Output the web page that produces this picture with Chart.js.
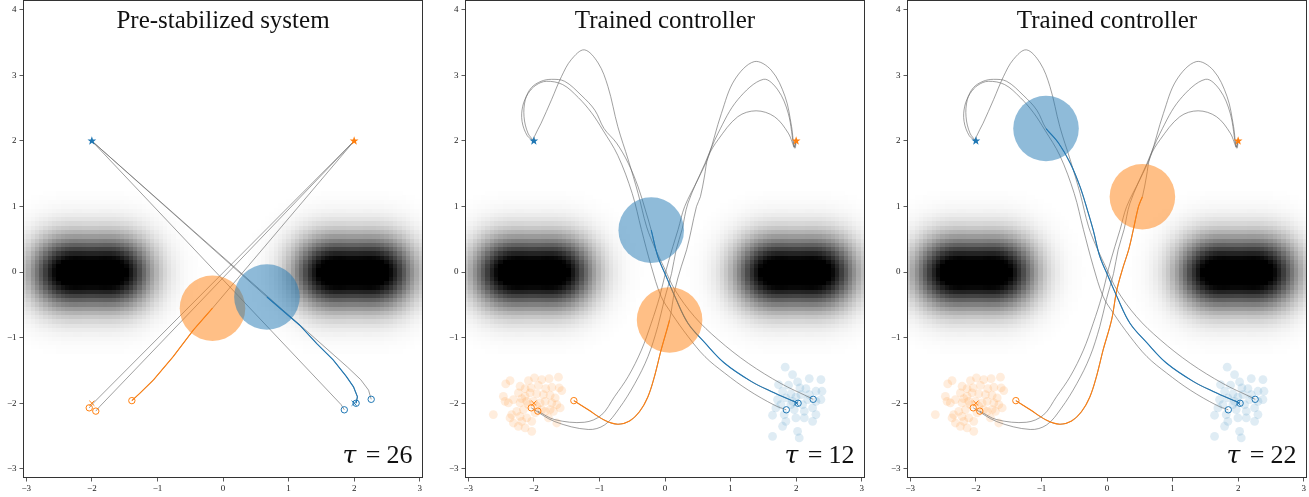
<!DOCTYPE html>
<html>
<head>
<meta charset="utf-8">
<script src="https://cdn.jsdelivr.net/npm/chart.js@4.4.1/dist/chart.umd.min.js"></script>
<style>
html, body { margin: 0; padding: 0; background: #fff; overflow: hidden; }
#wrap { position: relative; width: 1309px; height: 497px; overflow: hidden; }
canvas { position: absolute; top: 0; }
</style>
</head>
<body>
<div id="wrap">
<canvas id="c1" width="429" height="497" style="left:0px"></canvas>
<canvas id="c2" width="429" height="497" style="left:442px"></canvas>
<canvas id="c3" width="429" height="497" style="left:884px"></canvas>
</div>
<script>
/* colours and axes */
const blue = '#1f77b4'
const orange = '#ff7f0e'
const xTicks = [-3, -2, -1, 0, 1, 2, 3]
const yTicks = [-3, -2, -1, 0, 1, 2, 3, 4]
const xRange = [-3.05, 3.05]
const yRange = [-3.14, 4.15]

/* obstacle map (gaussian bumps) */
const obstacleX = [-2.4, -1.6, 1.6, 2.4]
const obstacleY = [0, 0, 0, 0]
const obstacleSpread = 0.374
const obstacleBlack = 0.97
const obstacleCell = 0.065

/* agents */
const goalBlue = [[-2, 2]]
const goalOrange = [[2, 2]]
const nominalBlue = [[2, -2]]
const nominalOrange = [[-2, -2]]
const startsBlue = [[2.03, -2.0], [1.85, -2.10], [2.26, -1.94]]
const startsOrange = [[-1.39, -1.96], [-2.04, -2.07], [-1.94, -2.12]]
const bodyRadius = 0.5

/* sampled initial conditions (faint clouds) */
const cloudOrange = [[-2.363, -1.654], [-2.429, -1.705], [-2.21, -1.741], [-2.083, -1.654], [-1.991, -1.614], [-1.879, -1.639], [-1.767, -1.624], [-1.625, -1.603], [-1.614, -1.766], [-1.574, -1.807], [-1.726, -1.756], [-1.818, -1.777], [-1.93, -1.726], [-2.042, -1.766], [-2.134, -1.777], [-2.236, -1.843], [-2.312, -1.944], [-2.439, -1.97], [-2.465, -1.894], [-2.389, -1.995], [-2.185, -1.929], [-2.134, -1.894], [-2.057, -1.843], [-1.956, -1.858], [-1.854, -1.868], [-1.752, -1.878], [-1.675, -1.919], [-1.828, -1.97], [-1.905, -1.995], [-1.726, -1.995], [-1.65, -2.021], [-1.752, -2.097], [-1.879, -2.097], [-1.828, -2.123], [-1.701, -2.123], [-1.599, -2.072], [-2.159, -2.097], [-2.261, -2.123], [-2.338, -2.173], [-2.21, -2.199], [-2.108, -2.224], [-2.032, -2.275], [-1.981, -2.148], [-2.185, -2.275], [-2.312, -2.301], [-2.236, -2.352], [-2.134, -2.377], [-2.032, -2.428], [-2.363, -2.224], [-2.618, -2.173], [-1.65, -2.301], [-1.777, -2.224], [-2.083, -2.021], [-2.006, -1.97], [-1.956, -2.046], [-2.108, -1.97], [-2.21, -1.995]]
const cloudBlue = [[1.833, -1.45], [1.945, -1.562], [2.2, -1.624], [2.378, -1.639], [1.731, -1.715], [1.884, -1.725], [2.022, -1.674], [2.057, -1.766], [2.302, -1.817], [2.394, -1.817], [2.149, -1.776], [1.793, -1.817], [1.92, -1.858], [1.996, -1.908], [1.716, -1.944], [2.175, -1.944], [2.302, -1.97], [1.767, -2.02], [1.92, -2.02], [2.098, -2.02], [2.251, -2.071], [1.691, -2.071], [1.971, -2.097], [2.124, -2.122], [2.302, -2.173], [1.64, -2.183], [1.818, -2.173], [1.996, -2.224], [2.124, -2.224], [2.251, -2.275], [1.843, -2.275], [1.793, -2.351], [2.022, -2.428], [1.64, -2.504], [2.047, -2.529], [1.945, -1.97], [2.073, -1.868], [1.843, -1.919], [2.2, -1.868], [2.378, -1.944]]

/* pre-stabilized trajectories */
const preBlue0 = [[2.03, -2.0], [2.05, -1.9], [1.99, -1.75], [1.88, -1.59], [1.68, -1.34], [1.43, -1.09], [1.17, -0.81], [0.67, -0.38], [-2, 2]]
const preBlue1 = [[1.85, -2.10], [1.80, -2.02], [-2, 2]]
const preBlue2 = [[2.26, -1.94], [2.22, -1.80], [2.10, -1.64], [1.90, -1.45], [-2, 2]]
const preOrange0 = [[-1.39, -1.96], [-1.27, -1.85], [-1.06, -1.645], [-0.76, -1.29], [-0.45, -0.88], [-0.16, -0.55], [2, 2]]
const preOrange1 = [[-2.04, -2.07], [-1.98, -2.0], [2, 2]]
const preOrange2 = [[-1.94, -2.12], [-1.88, -2.05], [2, 2]]

/* trained-controller trajectories */
const trainedBlue0 = [[2.03, -2.0], [1.62, -1.82], [1.32, -1.67], [0.91, -1.39], [0.61, -1.08], [0.35, -0.78], [0.15, -0.37], [0.02, -0.07], [-0.11, 0.24], [-0.21, 0.64], [-0.30, 0.95], [-0.41, 1.30], [-0.56, 1.66], [-0.74, 1.97], [-0.93, 2.19], [-1.07, 2.47], [-1.28, 2.70], [-1.53, 2.91], [-1.73, 2.94], [-1.89, 2.91], [-2.04, 2.81], [-2.13, 2.63], [-2.15, 2.37], [-2.09, 2.12], [-2, 2]]
const trainedBlue1 = [[1.85, -2.10], [1.67, -2.03], [1.27, -1.80], [0.91, -1.54], [0.61, -1.29], [0.35, -0.98], [0.10, -0.63], [-0.06, -0.37], [-0.21, 0.09], [-0.36, 0.65], [-0.50, 1.20], [-0.72, 1.78], [-0.95, 2.17], [-1.12, 2.43], [-1.32, 2.66], [-1.56, 2.86], [-1.81, 2.91], [-1.97, 2.85], [-2.09, 2.72], [-2.17, 2.53], [-2.18, 2.30], [-2.10, 2.08], [-2, 2]]
const trainedBlue2 = [[2.26, -1.94], [2.18, -1.90], [1.77, -1.70], [1.27, -1.39], [0.81, -1.03], [0.45, -0.68], [0.15, -0.27], [0.0, 0.04], [-0.15, 0.36], [-0.28, 0.69], [-0.41, 1.20], [-0.56, 1.71], [-0.72, 2.22], [-0.87, 2.83], [-1.02, 3.19], [-1.23, 3.39], [-1.43, 3.24], [-1.58, 2.98], [-1.73, 2.63], [-1.89, 2.27], [-1.99, 2.07], [-2, 2]]
const trainedOrange0 = [[-1.39, -1.96], [-1.17, -2.10], [-0.92, -2.26], [-0.72, -2.32], [-0.54, -2.27], [-0.39, -2.13], [-0.26, -1.90], [-0.16, -1.59], [-0.06, -1.19], [0.07, -0.73], [0.15, -0.27], [0.25, 0.09], [0.33, 0.34], [0.40, 0.64], [0.48, 1.0], [0.54, 1.15], [0.60, 1.45], [0.66, 1.76], [0.81, 2.02], [1.11, 2.37], [1.39, 2.46], [1.67, 2.37], [1.88, 2.12], [1.98, 1.89], [2, 2]]
const trainedOrange1 = [[-1.94, -2.12], [-1.68, -2.25], [-1.23, -2.29], [-0.97, -2.18], [-0.77, -1.90], [-0.56, -1.59], [-0.36, -1.19], [-0.21, -0.78], [-0.08, -0.37], [0.02, 0.04], [0.12, 0.39], [0.20, 0.65], [0.30, 1.0], [0.50, 1.41], [0.66, 1.76], [0.86, 2.42], [1.06, 2.93], [1.36, 3.21], [1.62, 3.08], [1.83, 2.68], [1.93, 2.22], [1.97, 1.91], [2, 2]]
const trainedOrange2 = [[-2.04, -2.07], [-1.68, -2.28], [-1.17, -2.40], [-0.92, -2.33], [-0.70, -2.08], [-0.46, -1.70], [-0.26, -1.29], [-0.11, -0.83], [-0.01, -0.42], [0.10, -0.02], [0.17, 0.34], [0.26, 0.65], [0.35, 1.05], [0.61, 1.66], [0.81, 2.12], [1.11, 2.63], [1.50, 2.94], [1.72, 2.78], [1.88, 2.42], [1.97, 1.91], [2, 2]]

/* panels: title, tau and index of the tau step in the coloured trajectory */
const panelTitles = ['Pre-stabilized system', 'Trained controller', 'Trained controller']
const panelTaus = [26, 12, 22]
const panelBlueStep = [7, 9, 14]
const panelOrangeStep = [5, 9, 15]

const pts = (arr) => arr.map((p) => ({ x: p[0], y: p[1] }))

const lineSet = (arr, color, width, order, tension) => ({
	data: pts(arr), showLine: true, borderColor: color, borderWidth: width,
	pointRadius: 0, tension: tension, order: order
})

const bodySet = (p, color) => ({
	data: pts([p]), pointStyle: 'circle', backgroundColor: color, borderWidth: 0, order: 1,
	pointRadius: (ctx) => {
		const s = ctx.chart.scales.x
		return Math.abs(s.getPixelForValue(bodyRadius) - s.getPixelForValue(0))
	}
})

const markSet = (arr, style, color, radius, order) => ({
	data: pts(arr), pointStyle: style, pointRadius: radius, borderColor: color,
	backgroundColor: 'rgba(0,0,0,0)', pointBorderWidth: 1, borderWidth: 1, order: order
})

/* obstacle field, drawn cell by cell through the scales */
const fieldPlugin = {
	id: 'field',
	beforeDatasetsDraw(chart) {
		const { ctx, chartArea: a, scales: { x, y } } = chart
		ctx.save()
		ctx.beginPath()
		ctx.rect(a.left, a.top, a.right - a.left, a.bottom - a.top)
		ctx.clip()
		const s2 = 2 * obstacleSpread * obstacleSpread
		for (let gx = -3.25; gx < 3.3; gx += obstacleCell) {
			for (let gy = -3.25; gy < 4.3; gy += obstacleCell) {
				const cx = gx + obstacleCell / 2
				const cy = gy + obstacleCell / 2
				let f = 0
				for (let k = 0; k < obstacleX.length; k++) {
					const dx = cx - obstacleX[k]
					const dy = cy - obstacleY[k]
					f += Math.exp(-(dx * dx + dy * dy) / s2)
				}
				const d = Math.min(1, f / obstacleBlack)
				if (d < 0.004) continue
				const v = Math.round(255 * (1 - d))
				ctx.fillStyle = `rgb(${v},${v},${v})`
				const x0 = Math.floor(x.getPixelForValue(gx))
				const x1 = Math.ceil(x.getPixelForValue(gx + obstacleCell))
				const y0 = Math.floor(y.getPixelForValue(gy + obstacleCell))
				const y1 = Math.ceil(y.getPixelForValue(gy))
				ctx.fillRect(x0, y0, x1 - x0, y1 - y0)
			}
		}
		ctx.restore()
	}
}

/* goal stars (filled five-point stars at the goal positions) */
function drawStar(ctx, px, py, color) {
	ctx.fillStyle = color
	ctx.beginPath()
	for (let i = 0; i < 10; i++) {
		const r = i % 2 ? 1.9 : 4.6
		const a = -Math.PI / 2 + i * Math.PI / 5
		ctx.lineTo(px + r * Math.cos(a), py + r * Math.sin(a))
	}
	ctx.closePath()
	ctx.fill()
}

/* frame, goal stars, title and tau label */
const framePlugin = {
	id: 'frame',
	afterDatasetsDraw(chart, args, opts) {
		const { ctx, chartArea: a, scales: { x, y } } = chart
		ctx.save()
		goalBlue.forEach((p) => drawStar(ctx, x.getPixelForValue(p[0]), y.getPixelForValue(p[1]), blue))
		goalOrange.forEach((p) => drawStar(ctx, x.getPixelForValue(p[0]), y.getPixelForValue(p[1]), orange))
		ctx.strokeStyle = '#333'
		ctx.lineWidth = 1
		ctx.strokeRect(a.left + 0.5, a.top + 0.5, a.right - a.left - 1, a.bottom - a.top - 1)
		ctx.fillStyle = '#111'
		ctx.textBaseline = 'alphabetic'
		ctx.textAlign = 'center'
		ctx.font = '25px "Liberation Serif"'
		ctx.fillText(opts.title, (a.left + a.right) / 2, a.top + 28)
		const r = a.right - 10.5
		const base = a.bottom - 15.5
		ctx.textAlign = 'right'
		ctx.font = '26px "Liberation Serif"'
		ctx.fillText(String(opts.tau), r, base)
		ctx.textAlign = 'center'
		ctx.fillText('=', r - 39.5, base)
		ctx.font = 'italic 25px "DejaVu Serif"'
		ctx.textAlign = 'left'
		ctx.fillText('\u03c4', r - 70, base)
		ctx.restore()
	}
}

const tickLabel = (v) => (v < 0 ? '\u2212' + Math.abs(v) : String(v))

function makePanel(id, idx, blueTrajs, orangeTrajs, showCloud) {
	const bStep = panelBlueStep[idx]
	const oStep = panelOrangeStep[idx]
	const tension = idx === 0 ? 0 : 0.35
	const datasets = []
	datasets.push(markSet(startsBlue, 'circle', blue, 3.2, 0))
	datasets.push(markSet(startsOrange, 'circle', orange, 3.2, 0))
	datasets.push(markSet(nominalBlue, 'crossRot', blue, 3.6, 0))
	datasets.push(markSet(nominalOrange, 'crossRot', orange, 3.6, 0))
	datasets.push(bodySet(blueTrajs[0][bStep], 'rgba(31,119,180,0.5)'))
	datasets.push(bodySet(orangeTrajs[0][oStep], 'rgba(255,127,14,0.5)'))
	datasets.push(lineSet(blueTrajs[0].slice(0, bStep + 1), blue, 1.1, 2, tension))
	datasets.push(lineSet(orangeTrajs[0].slice(0, oStep + 1), orange, 1.1, 2, tension))
	blueTrajs.concat(orangeTrajs).forEach((t) => {
		datasets.push(lineSet(t, 'rgba(105,105,105,0.75)', 0.85, 3, tension))
	})
	if (showCloud) {
		datasets.push({ data: pts(cloudBlue), pointRadius: 4.4, pointStyle: 'circle', backgroundColor: 'rgba(31,119,180,0.14)', borderWidth: 0, order: 4 })
		datasets.push({ data: pts(cloudOrange), pointRadius: 4.4, pointStyle: 'circle', backgroundColor: 'rgba(255,127,14,0.14)', borderWidth: 0, order: 4 })
	}

	const tickFont = { family: 'Liberation Serif', size: 9 }
	new Chart(document.getElementById(id), {
		type: 'scatter',
		data: { datasets },
		plugins: [fieldPlugin, framePlugin],
		options: {
			responsive: false,
			animation: false,
			devicePixelRatio: 1,
			layout: { autoPadding: false, padding: { left: 0, right: 6, top: 0, bottom: 0 } },
			plugins: {
				legend: { display: false },
				tooltip: { enabled: false },
				frame: { title: panelTitles[idx], tau: panelTaus[idx] }
			},
			scales: {
				x: {
					type: 'linear', min: xRange[0], max: xRange[1],
					afterBuildTicks: (s) => { s.ticks = xTicks.map((v) => ({ value: v })) },
					afterFit: (s) => { s.height = 19; s.paddingLeft = 0; s.paddingRight = 0 },
					ticks: { font: tickFont, color: '#222', padding: 2, maxRotation: 0, callback: tickLabel },
					grid: { drawOnChartArea: false, tickLength: 3.5, color: '#333', lineWidth: 0.8 },
					border: { display: false }
				},
				y: {
					type: 'linear', min: yRange[0], max: yRange[1],
					afterBuildTicks: (s) => { s.ticks = yTicks.map((v) => ({ value: v })) },
					afterFit: (s) => { s.width = 23; s.paddingTop = 0; s.paddingBottom = 0 },
					ticks: { font: tickFont, color: '#222', padding: 3, callback: tickLabel },
					grid: { drawOnChartArea: false, tickLength: 3.5, color: '#333', lineWidth: 0.8 },
					border: { display: false }
				}
			}
		}
	})
}

makePanel('c1', 0, [preBlue0, preBlue1, preBlue2], [preOrange0, preOrange1, preOrange2], false)
makePanel('c2', 1, [trainedBlue0, trainedBlue1, trainedBlue2], [trainedOrange0, trainedOrange1, trainedOrange2], true)
makePanel('c3', 2, [trainedBlue0, trainedBlue1, trainedBlue2], [trainedOrange0, trainedOrange1, trainedOrange2], true)
</script>
</body>
</html>
